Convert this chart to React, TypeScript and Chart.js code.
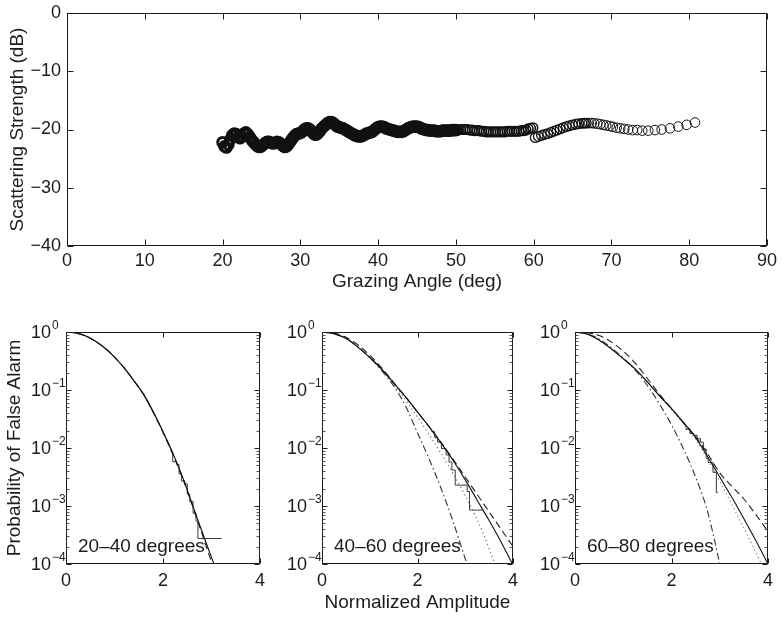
import React, { useEffect, useRef } from 'react';
import { Chart, registerables } from 'chart.js';

Chart.register(...registerables);

const FONT = "'Liberation Sans', Arial, Helvetica, sans-serif";
const INK = '#1c1c1c';

// ---------- Top panel: scattering strength vs grazing angle ----------
const GRAZING_ANGLE = [
  20, 20.25, 20.5, 20.75, 21, 21.25, 21.5, 21.75, 22, 22.25,
  22.5, 22.75, 23, 23.25, 23.5, 23.75, 24, 24.25, 24.5, 24.75,
  25, 25.25, 25.5, 25.75, 26, 26.25, 26.5, 26.75, 27, 27.25,
  27.5, 27.75, 28, 28.25, 28.5, 28.75, 29, 29.25, 29.5, 29.75,
  30, 30.25, 30.5, 30.75, 31, 31.25, 31.5, 31.75, 32, 32.25,
  32.5, 32.75, 33, 33.25, 33.5, 33.75, 34, 34.25, 34.5, 34.75,
  35, 35.25, 35.5, 35.75, 36, 36.25, 36.5, 36.75, 37, 37.25,
  37.5, 37.75, 38, 38.25, 38.5, 38.75, 39, 39.25, 39.5, 39.75,
  40, 40.25, 40.5, 40.75, 41, 41.25, 41.5, 41.75, 42, 42.25,
  42.5, 42.75, 43, 43.25, 43.5, 43.75, 44, 44.25, 44.5, 44.75,
  45, 45.25, 45.5, 45.75, 46, 46.25, 46.5, 46.75, 47, 47.25,
  47.5, 47.75, 48, 48.25, 48.5, 48.75, 49, 49.25, 49.5, 49.75, 50,
  50.3, 50.6, 50.9, 51.2, 51.5, 51.8, 52.1, 52.4, 52.7, 53.0,
  53.3, 53.6, 53.9, 54.2, 54.5, 54.8, 55.1, 55.4, 55.7, 56.0,
  56.3, 56.6, 56.9, 57.2, 57.5, 57.8, 58.1, 58.4, 58.7, 59.0,
  59.3, 59.6, 59.9,
  60.2, 60.6, 61.0, 61.4, 61.8, 62.2, 62.6, 63.0, 63.4, 63.8,
  64.2, 64.6, 65.0, 65.4, 65.8, 66.2, 66.5,
  66.77, 67.11, 67.46, 67.79, 68.18, 68.56, 68.95, 69.33, 69.77, 70.19,
  70.67, 71.13, 71.65, 72.16, 72.73, 73.32, 73.96, 74.73, 75.59, 76.45,
  77.52, 78.59, 79.67, 80.74,
];

const SCATTERING_DB = [
  -22.2, -22.9, -23.1, -22.6, -21.7, -21.0, -20.7, -20.8, -21.3, -21.5,
  -21.2, -20.7, -20.5, -20.8, -21.3, -21.8, -22.2, -22.6, -22.9, -23.0,
  -22.9, -22.6, -22.3, -22.1, -22.1, -22.3, -22.4, -22.3, -22.1, -22.2,
  -22.5, -22.8, -23.0, -22.9, -22.5, -22.0, -21.5, -21.1, -20.8, -20.7,
  -20.6, -20.4, -20.0, -19.8, -19.8, -20.0, -20.4, -20.8, -20.9, -20.7,
  -20.3, -19.8, -19.5, -19.2, -18.9, -18.7, -18.7, -18.9, -19.2, -19.5,
  -19.6, -19.7, -19.8, -20.0, -20.2, -20.4, -20.6, -20.8, -21.0, -21.1,
  -21.2, -21.2, -21.1, -20.9, -20.7, -20.6, -20.5, -20.4, -20.1, -19.8,
  -19.6, -19.5, -19.5, -19.6, -19.8, -19.9, -20.0, -20.1, -20.2, -20.3,
  -20.4, -20.4, -20.4, -20.3, -20.1, -19.9, -19.7, -19.6, -19.5, -19.5,
  -19.5, -19.6, -19.8, -19.9, -20.0, -20.1, -20.1, -20.2, -20.2, -20.2,
  -20.3, -20.3, -20.3, -20.2, -20.2, -20.2, -20.2, -20.2, -20.1, -20.1, -20.1,
  -20.1, -20.0, -20.0, -20.0, -20.0, -20.1, -20.1, -20.2, -20.2, -20.2,
  -20.3, -20.3, -20.4, -20.4, -20.4, -20.4, -20.4, -20.4, -20.4, -20.4,
  -20.4, -20.3, -20.3, -20.3, -20.3, -20.3, -20.3, -20.2, -20.2, -20.1,
  -19.9, -19.8, -19.7,
  -21.4, -21.2, -21.0, -20.85, -20.7, -20.5, -20.3, -20.1, -19.9, -19.7,
  -19.5, -19.35, -19.2, -19.1, -19.0, -18.95, -18.9,
  -18.9, -18.9, -18.9, -18.95, -19.0, -19.1, -19.2, -19.3, -19.4, -19.55,
  -19.7, -19.8, -19.9, -20.0, -20.1, -20.1, -20.2, -20.2, -20.1, -20.0,
  -19.8, -19.5, -19.2, -18.8,
];

const TOP_X_TICKS = [0, 10, 20, 30, 40, 50, 60, 70, 80, 90];
const TOP_Y_TICKS = [-40, -30, -20, -10, 0];

// ---------- Bottom panels: probability of false alarm ----------
const PFA_X_TICKS = [0, 2, 4];
const PFA_EXPONENTS = [0, -1, -2, -3, -4];
const PANEL_LABELS = ['20–40 degrees', '40–60 degrees', '60–80 degrees'];

// 20–40 degrees
const P1_X = [0, 0.2, 0.4, 0.6, 0.8, 1.0, 1.2, 1.4, 1.6, 1.8, 2.0, 2.2, 2.4, 2.6, 2.8, 3.0, 3.05];
const P1_SOLID = [1, 0.96, 0.86, 0.7, 0.53, 0.37, 0.24, 0.145, 0.085, 0.042, 0.019, 0.0082, 0.0032, 0.0011, 0.00037, 0.00013, 0.0001];
const P1_DASH = [1, 0.96, 0.86, 0.7, 0.53, 0.37, 0.24, 0.145, 0.084, 0.041, 0.0185, 0.0079, 0.0031, 0.00105, 0.00034, 0.00011, 0.00009];
const P1_EMP_HEAD_X = [0, 0.2, 0.4, 0.6, 0.8, 1.0, 1.2, 1.4, 1.6, 1.8, 2.0, 2.2];
const P1_EMP_HEAD_Y = [1, 0.96, 0.855, 0.7, 0.53, 0.37, 0.238, 0.142, 0.082, 0.041, 0.0192, 0.0084];
const P1_EMP_TAIL_X = [2.2, 2.28, 2.33, 2.38, 2.45, 2.5, 2.55, 2.62, 2.68, 2.72, 2.74, 3.21];
const P1_EMP_TAIL_Y = [0.0084, 0.0058, 0.0052, 0.0036, 0.0027, 0.0024, 0.0016, 0.0012, 0.00075, 0.00055, 0.000275, 0.000275];

// 40–60 degrees
const P2_X = [0, 0.25, 0.5, 0.75, 1.0, 1.25, 1.5, 1.75, 2.0, 2.25, 2.5, 2.75, 3.0, 3.25, 3.5, 3.75, 4.0];
const P2_SOLID = [1, 0.933, 0.776, 0.55, 0.363, 0.229, 0.132, 0.0759, 0.0417, 0.0229, 0.012, 0.00603, 0.00282, 0.00126, 0.000562, 0.00024, 0.0000955];
const P2_DASH = [1, 0.955, 0.813, 0.603, 0.398, 0.24, 0.135, 0.0759, 0.0417, 0.0229, 0.0123, 0.00631, 0.00316, 0.00158, 0.000794, 0.000398, 0.0002];
const P2_DASHDOT_X = [0, 0.25, 0.5, 0.75, 1.0, 1.25, 1.5, 1.75, 2.0, 2.25, 2.5, 2.75, 3.0, 3.04];
const P2_DASHDOT = [1, 0.933, 0.776, 0.56, 0.365, 0.215, 0.118, 0.053, 0.0182, 0.0063, 0.00195, 0.000525, 0.000123, 0.0001];
const P2_DOT_X = [0, 0.25, 0.5, 0.75, 1.0, 1.25, 1.5, 1.75, 2.0, 2.25, 2.5, 2.75, 3.0, 3.2, 3.4, 3.6, 3.63];
const P2_DOT = [1, 0.933, 0.776, 0.55, 0.363, 0.224, 0.128, 0.068, 0.034, 0.0166, 0.0079, 0.00355, 0.00151, 0.000708, 0.000302, 0.000112, 0.0001];
const P2_EMP_HEAD_X = [0, 0.25, 0.5, 0.75, 1.0, 1.25, 1.5, 1.75, 2.0, 2.3];
const P2_EMP_HEAD_Y = [1, 0.94, 0.776, 0.55, 0.363, 0.228, 0.132, 0.076, 0.0417, 0.0204];
const P2_EMP_TAIL_X = [2.3, 2.36, 2.42, 2.5, 2.6, 2.66, 2.72, 2.79, 3.04, 3.09, 3.13, 3.37];
const P2_EMP_TAIL_Y = [0.0204, 0.0191, 0.0151, 0.0126, 0.00977, 0.00759, 0.00575, 0.00417, 0.00229, 0.00178, 0.00085, 0.00085];

// 60–80 degrees
const P3_X = [0, 0.25, 0.5, 0.75, 1.0, 1.25, 1.5, 1.75, 2.0, 2.25, 2.5, 2.75, 3.0, 3.25, 3.5, 3.75, 4.0];
const P3_SOLID = [1, 0.923, 0.724, 0.513, 0.347, 0.229, 0.138, 0.0794, 0.0479, 0.0275, 0.0151, 0.00708, 0.00316, 0.00141, 0.000603, 0.000251, 0.0001];
const P3_DASH = [1, 0.977, 0.871, 0.676, 0.468, 0.288, 0.158, 0.0851, 0.0479, 0.0275, 0.0158, 0.00794, 0.00372, 0.00219, 0.00132, 0.000708, 0.000363];
const P3_DASHDOT_X = [0, 0.25, 0.5, 0.75, 1.0, 1.25, 1.5, 1.75, 2.0, 2.25, 2.5, 2.75, 2.9, 3.0];
const P3_DASHDOT = [1, 0.933, 0.759, 0.537, 0.355, 0.219, 0.12, 0.0575, 0.0251, 0.00955, 0.00316, 0.000794, 0.00024, 0.0001];
const P3_DOT_X = [0, 0.25, 0.5, 0.75, 1.0, 1.25, 1.5, 1.75, 2.0, 2.25, 2.5, 2.75, 3.0, 3.25, 3.5, 3.75, 3.86];
const P3_DOT = [1, 0.923, 0.724, 0.513, 0.347, 0.229, 0.138, 0.0794, 0.046, 0.026, 0.0141, 0.0063, 0.00263, 0.00107, 0.000417, 0.000158, 0.0001];
const P3_EMP_HEAD_X = [0, 0.25, 0.5, 0.75, 1.0, 1.25, 1.5, 1.75, 2.0, 2.3];
const P3_EMP_HEAD_Y = [1, 0.925, 0.724, 0.513, 0.347, 0.229, 0.138, 0.0794, 0.0479, 0.0234];
const P3_EMP_TAIL_X = [2.3, 2.38, 2.46, 2.53, 2.6, 2.66, 2.72, 2.76, 2.86, 2.93, 2.96];
const P3_EMP_TAIL_Y = [0.0234, 0.0209, 0.0178, 0.0166, 0.0145, 0.0126, 0.00955, 0.00661, 0.00562, 0.0038, 0.0017];

// ---------- helpers ----------
const pairs = (xs: number[], ys: number[]) => {
  const n = Math.min(xs.length, ys.length);
  const out: { x: number; y: number }[] = [];
  for (let i = 0; i < n; i++) out.push({ x: xs[i], y: ys[i] });
  return out;
};

const minus = (v: number) => (v < 0 ? '\u2212' + Math.abs(v) : String(v));

const matlabAxes = {
  id: 'matlabAxes',
  afterDatasetsDraw(chart: any, _args: any, opts: any) {
    const { ctx, chartArea } = chart;
    const xs = chart.scales.x;
    const ys = chart.scales.y;
    const L = opts.tickLen || 5;
    const l = Math.round(chartArea.left) + 0.5;
    const r = Math.round(chartArea.right) - 0.5;
    const t = Math.round(chartArea.top) + 0.5;
    const b = Math.round(chartArea.bottom) - 0.5;
    ctx.save();
    ctx.strokeStyle = INK;
    ctx.lineWidth = 1;
    ctx.setLineDash([]);
    ctx.strokeRect(l, t, r - l, b - t);
    ctx.beginPath();
    for (const v of opts.xTicks || []) {
      const px = Math.round(xs.getPixelForValue(v)) + 0.5;
      ctx.moveTo(px, b); ctx.lineTo(px, b - L);
      ctx.moveTo(px, t); ctx.lineTo(px, t + L);
    }
    const yTickVals = opts.logExponents
      ? opts.logExponents.map((p: number) => Math.pow(10, p))
      : opts.yTicks || [];
    for (const v of yTickVals) {
      const py = Math.round(ys.getPixelForValue(v)) + 0.5;
      ctx.moveTo(l, py); ctx.lineTo(l + L, py);
      ctx.moveTo(r, py); ctx.lineTo(r - L, py);
    }
    ctx.stroke();
    if (opts.logExponents) {
      ctx.beginPath();
      const exps: number[] = opts.logExponents;
      const top = Math.max(...exps);
      for (const p of exps) {
        if (p === top) continue;
        for (let m = 2; m <= 9; m++) {
          const py = Math.round(ys.getPixelForValue(m * Math.pow(10, p))) + 0.5;
          ctx.moveTo(l, py); ctx.lineTo(l + 3, py);
          ctx.moveTo(r, py); ctx.lineTo(r - 3, py);
        }
      }
      ctx.strokeStyle = '#555';
      ctx.stroke();
      ctx.fillStyle = INK;
      ctx.textBaseline = 'middle';
      for (const p of exps) {
        const py = ys.getPixelForValue(Math.pow(10, p));
        ctx.font = `18px ${FONT}`;
        ctx.textAlign = 'right';
        ctx.fillText('10', chartArea.left - 15, py + 1.5);
        ctx.font = `12px ${FONT}`;
        ctx.textAlign = 'left';
        ctx.fillText(minus(p), chartArea.left - 14, py - 6);
      }
    }
    if (opts.note) {
      ctx.fillStyle = INK;
      ctx.font = `19px ${FONT}`;
      ctx.textAlign = 'left';
      ctx.textBaseline = 'middle';
      ctx.fillText(opts.note, chartArea.left + 12, chartArea.bottom - 17);
    }
    ctx.restore();
  },
};

const fixH = (h: number) => (s: any) => { s.height = h; s.paddingLeft = 0; s.paddingRight = 0; };
const fixW = (w: number) => (s: any) => { s.width = w; s.paddingTop = 0; s.paddingBottom = 0; };

function pointWidth(c: any) {
  const x = c.raw ? c.raw.x : 0;
  if (x < 50.2) return 3;
  if (x < 60.1) return 1.6;
  if (x < 67) return 1.3;
  return 1;
}

function topConfig(): any {
  return {
    type: 'scatter',
    data: {
      datasets: [
        {
          data: pairs(GRAZING_ANGLE, SCATTERING_DB),
          showLine: false,
          pointStyle: 'circle',
          pointRadius: 4.8,
          pointBorderWidth: pointWidth,
          pointBorderColor: '#111',
          pointBackgroundColor: 'rgba(0,0,0,0)',
        },
      ],
    },
    options: {
      animation: false,
      responsive: false,
      events: [],
      layout: { padding: { left: 0, right: 16, top: 13, bottom: 0 } },
      plugins: {
        legend: { display: false },
        tooltip: { enabled: false },
        matlabAxes: { xTicks: TOP_X_TICKS, yTicks: TOP_Y_TICKS, tickLen: 6 },
      },
      scales: {
        x: {
          type: 'linear',
          min: 0,
          max: 90,
          ticks: { stepSize: 10, font: { family: FONT, size: 18 }, color: INK, padding: 4, maxRotation: 0 },
          grid: { display: false, drawTicks: false },
          border: { display: false },
          title: { display: true, text: 'Grazing Angle (deg)', font: { family: FONT, size: 19 }, color: INK, padding: { top: 0, bottom: 7 } },
          afterFit: fixH(54),
        },
        y: {
          type: 'linear',
          min: -40,
          max: 0,
          ticks: { stepSize: 10, font: { family: FONT, size: 18 }, color: INK, padding: 6, callback: (v: any) => minus(Number(v)) },
          grid: { display: false, drawTicks: false },
          border: { display: false },
          title: { display: true, text: 'Scattering Strength (dB)', font: { family: FONT, size: 19 }, color: INK, padding: { top: 6, bottom: 0 } },
          afterFit: fixW(67),
        },
      },
    },
    plugins: [matlabAxes],
  };
}

const lineDs = (xs: number[], ys: number[], color: string, dash: number[], width = 1.1) => ({
  data: pairs(xs, ys),
  borderColor: color,
  borderWidth: width,
  borderDash: dash,
  pointRadius: 0,
  fill: false,
  cubicInterpolationMode: 'monotone',
});

const stairDs = (xs: number[], ys: number[]) => ({
  data: pairs(xs, ys),
  borderColor: '#3a3a3a',
  borderWidth: 1,
  pointRadius: 0,
  fill: false,
  stepped: 'after',
});

function pfaConfig(datasets: any[], yWidth: number, padRight: number, note: string, yTitle: boolean, xTitle: boolean): any {
  return {
    type: 'line',
    data: { datasets },
    options: {
      animation: false,
      responsive: false,
      events: [],
      layout: { padding: { left: 0, right: padRight, top: 22, bottom: 0 } },
      plugins: {
        legend: { display: false },
        tooltip: { enabled: false },
        matlabAxes: { xTicks: PFA_X_TICKS, logExponents: PFA_EXPONENTS, tickLen: 5, note },
      },
      scales: {
        x: {
          type: 'linear',
          min: 0,
          max: 4,
          ticks: { stepSize: 2, font: { family: FONT, size: 18 }, color: INK, padding: 6, maxRotation: 0 },
          grid: { display: false, drawTicks: false },
          border: { display: false },
          title: { display: xTitle, text: 'Normalized Amplitude', font: { family: FONT, size: 19 }, color: INK, padding: { top: 0, bottom: 4 } },
          afterFit: fixH(54),
        },
        y: {
          type: 'logarithmic',
          min: 1e-4,
          max: 1,
          ticks: { display: false },
          grid: { display: false, drawTicks: false },
          border: { display: false },
          title: { display: yTitle, text: 'Probability of False Alarm', font: { family: FONT, size: 19 }, color: INK, padding: { top: 3, bottom: 0 } },
          afterFit: fixW(yWidth),
        },
      },
    },
    plugins: [matlabAxes],
  };
}

const DASH = [7, 4];
const DASHDOT = [7, 3, 1.5, 3];
const DOT = [1.2, 3];

function panel1(): any {
  return pfaConfig([
    lineDs(P1_X, P1_SOLID, '#111', []),
    lineDs(P1_X, P1_DASH, '#222', DASH),
    lineDs(P1_EMP_HEAD_X, P1_EMP_HEAD_Y, '#3a3a3a', [], 1),
    stairDs(P1_EMP_TAIL_X, P1_EMP_TAIL_Y),
  ], 66, 30, PANEL_LABELS[0], true, false);
}

function panel2(): any {
  return pfaConfig([
    lineDs(P2_X, P2_SOLID, '#111', []),
    lineDs(P2_X, P2_DASH, '#222', DASH),
    lineDs(P2_DASHDOT_X, P2_DASHDOT, '#333', DASHDOT),
    lineDs(P2_DOT_X, P2_DOT, '#666', DOT),
    lineDs(P2_EMP_HEAD_X, P2_EMP_HEAD_Y, '#3a3a3a', [], 1),
    stairDs(P2_EMP_TAIL_X, P2_EMP_TAIL_Y),
  ], 52, 27, PANEL_LABELS[1], false, true);
}

function panel3(): any {
  return pfaConfig([
    lineDs(P3_X, P3_SOLID, '#111', []),
    lineDs(P3_X, P3_DASH, '#222', DASH),
    lineDs(P3_DASHDOT_X, P3_DASHDOT, '#333', DASHDOT),
    lineDs(P3_DOT_X, P3_DOT, '#777', DOT),
    lineDs(P3_EMP_HEAD_X, P3_EMP_HEAD_Y, '#3a3a3a', [], 1),
    stairDs(P3_EMP_TAIL_X, P3_EMP_TAIL_Y),
  ], 45, 15, PANEL_LABELS[2], false, false);
}

function ChartCanvas(props: { make: () => any; left: number; top: number; width: number; height: number }) {
  const ref = useRef<HTMLCanvasElement | null>(null);
  useEffect(() => {
    if (!ref.current) return;
    const chart = new Chart(ref.current, props.make());
    return () => chart.destroy();
  }, []);
  return (
    <canvas
      ref={ref}
      width={props.width}
      height={props.height}
      style={{ position: 'absolute', left: props.left, top: props.top, width: props.width, height: props.height }}
    />
  );
}

export default function App() {
  return (
    <div style={{ position: 'absolute', left: 0, top: 0, width: 783, height: 618, background: '#fff', overflow: 'hidden' }}>
      <ChartCanvas make={topConfig} left={0} top={0} width={783} height={300} />
      <ChartCanvas make={panel1} left={0} top={310} width={290} height={308} />
      <ChartCanvas make={panel2} left={270} top={310} width={270} height={308} />
      <ChartCanvas make={panel3} left={530} top={310} width={253} height={308} />
    </div>
  );
}
